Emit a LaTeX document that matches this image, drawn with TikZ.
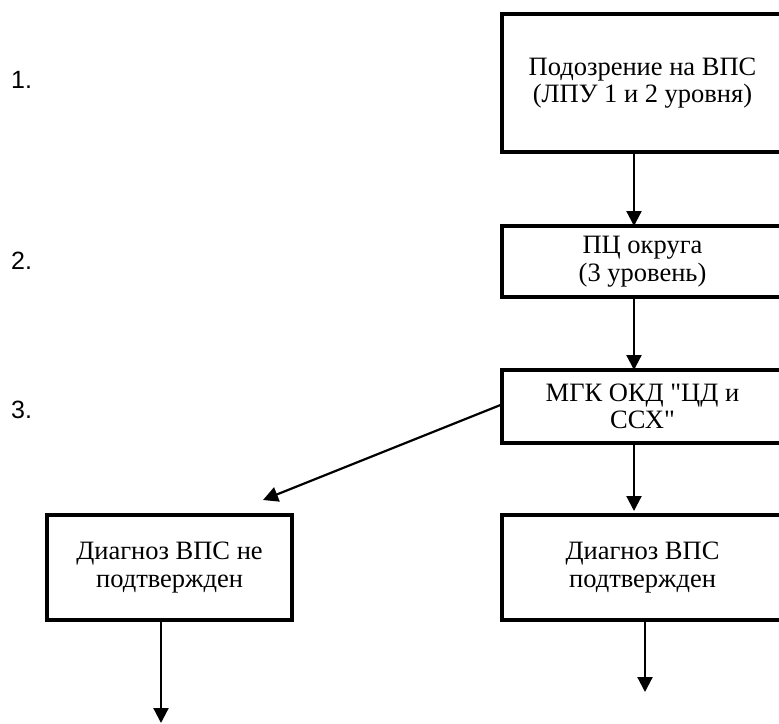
\documentclass[tikz,border=0pt]{standalone}
\usepackage{fontspec}
\setmainfont{Liberation Serif}
\newfontfamily\arialf{Liberation Sans}
\usetikzlibrary{arrows.meta,calc}
\newcommand\myboxfont{\fontsize{26.5}{27.5}\selectfont}
\begin{document}
\begin{tikzpicture}[x=1pt,y=-1pt,
  box/.style={draw,line width=3.6pt,inner sep=0pt,outer sep=0pt,align=center,
    font=\myboxfont},
  arr/.style={line width=2.2pt,-{Triangle[length=15pt,width=15pt]}},
  num/.style={anchor=base west,inner sep=0pt,font=\arialf\fontsize{25}{25}\selectfont}]
\useasboundingbox (0,0) rectangle (779,723);
\clip (0,0) rectangle (779,723);
\fill[white] (0,0) rectangle (779,723);
% boxes
\node[box,minimum width=281pt,minimum height=138pt] (b1) at (642.5,83) {Подозрение на ВПС\\(ЛПУ 1 и 2 уровня)};
\node[box,minimum width=281pt,minimum height=71pt] (b2) at (642.5,261.5) {ПЦ округа\\(3 уровень)};
\node[box,minimum width=281pt,minimum height=73pt] (b3) at (642.5,406.5) {МГК ОКД \textquotedbl ЦД и\\ССХ\textquotedbl};
\node[box,minimum width=245pt,minimum height=105pt] (b4) at (169.5,567.5) {Диагноз ВПС не\\подтвержден};
\node[box,minimum width=281pt,minimum height=105pt] (b5) at (642.5,567.5) {Диагноз ВПС\\подтвержден};
% numbers
\node[num] (n1) at (11,88) {1.};
\node[num] (n2) at (11,269) {2.};
\node[num] (n3) at (11,418) {3.};
% helper coordinates
\coordinate (xa) at (634,0);
\coordinate (xb) at (645,0);
\coordinate (xc) at (161,0);
\coordinate (d0) at (503,404);
\coordinate (d1) at (263,500);
\coordinate (e4) at (161,723);
\coordinate (e5) at (645,692);
% arrows
\draw[arr] (b1.south -| xa) -- (b2.north -| xa);
\draw[arr] (b2.south -| xa) -- (b3.north -| xa);
\draw[arr,shorten >=4pt] (b3.south -| xa) -- (b5.north -| xa);
\draw[arr] (d0) -- (d1);
\draw[arr] (b4.south -| xc) -- (e4);
\draw[arr] (b5.south -| xb) -- (e5);
\end{tikzpicture}
\end{document}
